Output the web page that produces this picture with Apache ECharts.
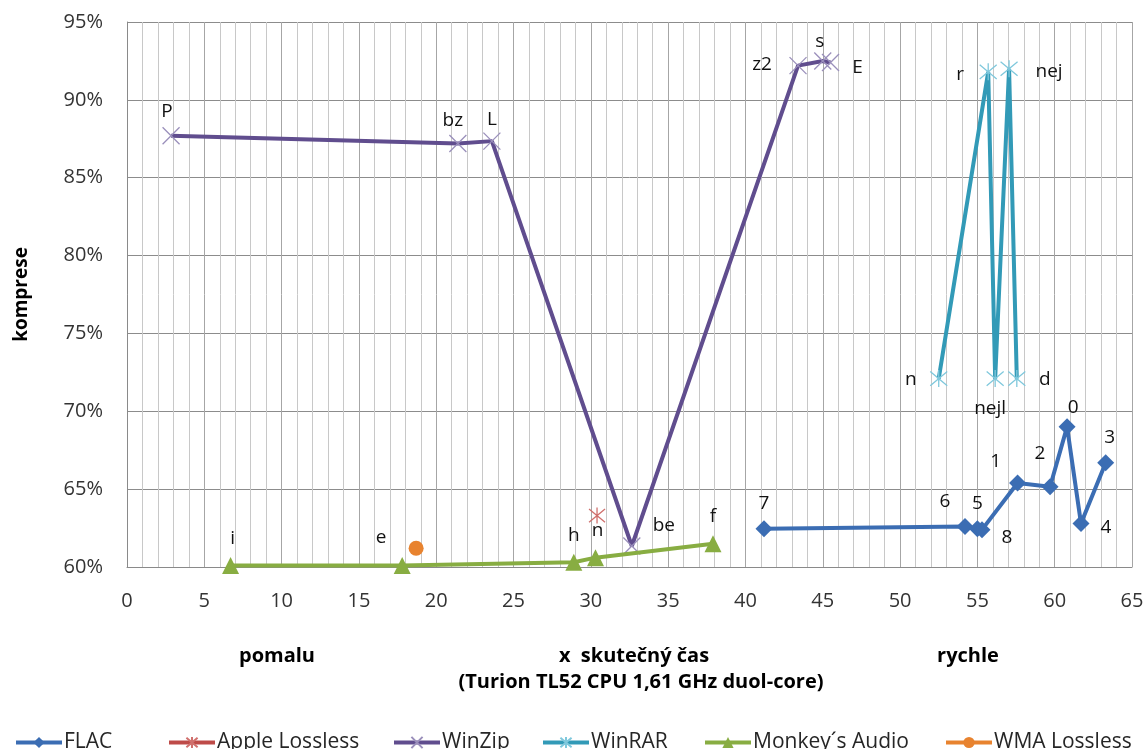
<!DOCTYPE html>
<html>
<head>
<meta charset="utf-8">
<script src="https://cdn.jsdelivr.net/npm/echarts@6/dist/echarts.min.js"></script>
<style>
html,body{margin:0;padding:0;background:#fff;}
#c{width:1145px;height:749px;}
</style>
</head>
<body>
<div id="c"></div>
<script>
// ---- data ----
const flacX = [41.2, 54.2, 55.0, 55.3, 57.6, 59.7, 60.8, 61.7, 63.3];
const flacY = [62.45, 62.6, 62.45, 62.4, 65.4, 65.15, 69.0, 62.8, 66.7];
const flacNames = ['7', '6', '5', '8', '1', '2', '0', '4', '3'];

const appleX = [30.4];
const appleY = [63.3];
const appleNames = [''];

const winzipX = [2.85, 21.4, 23.6, 32.65, 43.4, 45.0, 45.5];
const winzipY = [87.7, 87.2, 87.35, 61.35, 92.2, 92.5, 92.4];
const winzipNames = ['P', 'bz', 'L', 'be', 'z2', 's', 'E'];

const winrarX = [52.5, 55.7, 56.15, 57.05, 57.55];
const winrarY = [72.1, 91.8, 72.1, 92.0, 72.1];
const winrarNames = ['n', 'r', 'nejl', 'nej', 'd'];

const monkeyX = [6.7, 17.8, 28.9, 30.3, 37.9];
const monkeyY = [60.1, 60.1, 60.3, 60.6, 61.5];
const monkeyNames = ['i', '', 'h', 'n', 'f'];

const wmaX = [18.7];
const wmaY = [61.2];
const wmaNames = ['e'];

const seriesNames = ['FLAC', 'Apple Lossless', 'WinZip', 'WinRAR', 'Monkey´s Audio', 'WMA Lossless'];
const yTicksFmt = v => v + '%';

// ---- label placement (style) ----
const labelPos = {
  FLAC: [[0,-25],[-20,-25],[0,-25],[25,8],[-22,-21],[-10,-33],[6,-19],[25,4],[4,-25]],
  'Apple Lossless': [[0,0]],
  WinZip: [[-4,-24],[-5,-23],[0,-22],[32,-20],[-36,-1],[-3,-19],[27,5]],
  WinRAR: [[-28,1],[-28,3],[-5,30],[40,3],[28,1]],
  'Monkey´s Audio': [[2,-27],[0,-27],[0,-27],[2,-27],[0,-27]],
  'WMA Lossless': [[-35,-11]]
};
const legendLeft = [9, 162, 387, 536, 698, 939];

const font = '"Open Sans", "Liberation Sans", sans-serif';

function mk(name, xs, ys, names) {
  return xs.map((x, i) => ({
    value: [x, ys[i]],
    name: names[i],
    label: { offset: labelPos[name][i] }
  }));
}

const crossPath = 'path://M0,0L10,10M10,0L0,10';
const starPath = 'path://M0,0L10,10M10,0L0,10M5,-1L5,11';

const labelBase = {
  show: true, position: 'inside', formatter: p => p.name,
  color: '#111', fontSize: 19, fontFamily: font
};

const legends = seriesNames.map((n, i) => ({
  left: legendLeft[i], top: 727, itemGap: 0, itemWidth: 46, itemHeight: 14,
  lineStyle: { width: 4 },
  textStyle: { fontSize: 21, color: '#262626', fontFamily: font, padding: [0, 0, 0, -3] },
  data: [n]
}));

const chart = echarts.init(document.getElementById('c'), null, { renderer: 'canvas' });
chart.setOption({
  animation: false,
  backgroundColor: '#fff',
  textStyle: { fontFamily: font },
  grid: { left: 127, right: 13, top: 22, bottom: 182, containLabel: false, outerBoundsMode: 'none' },
  xAxis: {
    type: 'value', min: 0, max: 65, interval: 5,
    axisLine: { show: true, lineStyle: { color: '#8a8a8a', width: 1 } },
    axisTick: { show: false },
    axisLabel: { fontSize: 20, color: '#333', margin: 24, fontFamily: font },
    splitLine: { show: true, lineStyle: { color: '#a6a6a6', width: 1 } },
    minorTick: { show: false, splitNumber: 5 },
    minorSplitLine: { show: true, lineStyle: { color: '#c8c8c8', width: 1 } }
  },
  yAxis: {
    type: 'value', min: 60, max: 95, interval: 5,
    axisLine: { show: true, lineStyle: { color: '#8a8a8a', width: 1 } },
    axisTick: { show: false },
    axisLabel: { fontSize: 20, color: '#333', margin: 24, formatter: yTicksFmt, fontFamily: font },
    splitLine: { show: true, lineStyle: { color: '#8c8c8c', width: 1 } },
    name: 'komprese', nameLocation: 'middle', nameGap: 96, nameRotate: 90,
    nameTextStyle: { fontSize: 19, fontWeight: 'bold', color: '#000', fontFamily: font }
  },
  legend: legends,
  graphic: [
    { type: 'text', x: 277, y: 656, style: { text: 'pomalu', font: 'bold 20px ' + font, fill: '#000', align: 'center', verticalAlign: 'middle' } },
    { type: 'text', x: 634, y: 656, style: { text: 'x  skutečný čas', font: 'bold 20px ' + font, fill: '#000', align: 'center', verticalAlign: 'middle' } },
    { type: 'text', x: 641, y: 682, style: { text: '(Turion TL52 CPU 1,61 GHz duol-core)', font: 'bold 20px ' + font, fill: '#000', align: 'center', verticalAlign: 'middle' } },
    { type: 'text', x: 968, y: 656, style: { text: 'rychle', font: 'bold 20px ' + font, fill: '#000', align: 'center', verticalAlign: 'middle' } }
  ],
  series: [
    {
      name: seriesNames[0], type: 'line', data: mk('FLAC', flacX, flacY, flacNames),
      symbol: 'diamond', symbolSize: 17,
      itemStyle: { color: '#3b6db3' }, lineStyle: { color: '#3b6db3', width: 4 },
      label: labelBase, z: 5
    },
    {
      name: seriesNames[1], type: 'line', data: mk('Apple Lossless', appleX, appleY, appleNames),
      symbol: starPath, symbolSize: 16,
      itemStyle: { color: 'rgba(0,0,0,0)', borderColor: '#d0706d', borderWidth: 1.3 },
      lineStyle: { color: '#be4b48', width: 4 },
      label: { show: false }
    },
    {
      name: seriesNames[2], type: 'line', data: mk('WinZip', winzipX, winzipY, winzipNames),
      symbol: crossPath, symbolSize: 17,
      itemStyle: { color: 'rgba(0,0,0,0)', borderColor: '#9a8fbb', borderWidth: 1.3 },
      lineStyle: { color: '#604d8e', width: 4 },
      label: labelBase, z: 3
    },
    {
      name: seriesNames[3], type: 'line', data: mk('WinRAR', winrarX, winrarY, winrarNames),
      symbol: starPath, symbolSize: 17,
      itemStyle: { color: 'rgba(0,0,0,0)', borderColor: '#7fc8dc', borderWidth: 1.3 },
      lineStyle: { color: '#329ab7', width: 4 },
      label: labelBase, z: 3
    },
    {
      name: seriesNames[4], type: 'line', data: mk('Monkey´s Audio', monkeyX, monkeyY, monkeyNames),
      symbol: 'triangle', symbolSize: 17,
      itemStyle: { color: '#88ad42' }, lineStyle: { color: '#88ad42', width: 4 },
      label: labelBase, z: 4
    },
    {
      name: seriesNames[5], type: 'line', data: mk('WMA Lossless', wmaX, wmaY, wmaNames),
      symbol: 'circle', symbolSize: 15,
      itemStyle: { color: '#e8832f' }, lineStyle: { color: '#e8832f', width: 4 },
      label: labelBase, z: 4
    }
  ]
});
</script>
</body>
</html>
